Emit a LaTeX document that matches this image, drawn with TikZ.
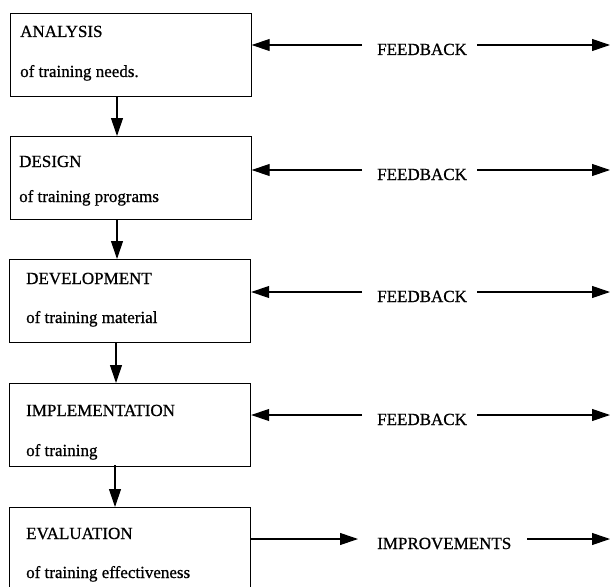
\documentclass[tikz,border=0pt]{standalone}
\usepackage{fontspec}
\setmainfont{Liberation Serif}[FakeBold=0.8]
\usetikzlibrary{arrows.meta}
\begin{document}
\begin{tikzpicture}[x=1pt,y=-1pt,
  stagebox/.style={draw,line width=1.2pt,rectangle,minimum width=241pt,minimum height=83pt,anchor=north west,inner sep=0pt},
  lbl/.style={font=\fontsize{17}{20}\selectfont,inner sep=0pt,anchor=base west},
  arr/.style={line width=1.1pt,-{Triangle[length=18pt,width=12pt]}}]
\clip (0,0) rectangle (610,586);
\fill[white] (0,0) rectangle (610,586);
% boxes
\node[stagebox] (b1) at (9.5,13) {};
\node[stagebox] (b2) at (9.5,136) {};
\node[stagebox] (b3) at (9,259) {};
\node[stagebox] (b4) at (9,383) {};
\node[stagebox] (b5) at (8.5,507) {};
% box texts
\node[lbl] (t1) at (20,37) {ANALYSIS};
\node[lbl] (s1) at (20,77) {of training needs.};
\node[lbl] (t2) at (19,167) {DESIGN};
\node[lbl] (s2) at (19,202) {of training programs};
\node[lbl] (t3) at (26,284) {DEVELOPMENT};
\node[lbl] (s3) at (26,323) {of training material};
\node[lbl] (t4) at (26,416) {IMPLEMENTATION};
\node[lbl] (s4) at (26,456) {of training};
\node[lbl] (t5) at (26,539) {EVALUATION};
\node[lbl] (s5) at (26,578) {of training effectiveness};
% down arrows
\draw[arr] (117,96) coordinate (d1) -- (d1 |- b2.north);
\draw[arr] (117,219) coordinate (d2) -- (d2 |- b3.north);
\draw[arr] (116,342) coordinate (d3) -- (d3 |- b4.north);
\draw[arr] (115,465) coordinate (d4) -- (d4 |- b5.north);
% feedback labels
\node[lbl] (f1) at (377,55) {FEEDBACK};
\node[lbl] (f2) at (377,180) {FEEDBACK};
\node[lbl] (f3) at (377,302) {FEEDBACK};
\node[lbl] (f4) at (377,425) {FEEDBACK};
\node[lbl] (im) at (377,549) {IMPROVEMENTS};
% line anchor coordinates
\coordinate (f1l) at (362,45);  \coordinate (f1r) at (477,45);  \coordinate (e1) at (610,45);
\coordinate (f2l) at (362,170); \coordinate (f2r) at (477,170); \coordinate (e2) at (610,170);
\coordinate (f3l) at (362,292); \coordinate (f3r) at (477,292); \coordinate (e3) at (610,292);
\coordinate (f4l) at (362,415); \coordinate (f4r) at (477,415); \coordinate (e4) at (610,415);
\coordinate (iml) at (358,539); \coordinate (imr) at (527,539); \coordinate (e5) at (610,539);
% feedback arrows
\draw[arr] (f1l) -- (b1.east |- f1l);
\draw[arr] (f1r) -- (e1);
\draw[arr] (f2l) -- (b2.east |- f2l);
\draw[arr] (f2r) -- (e2);
\draw[arr] (f3l) -- (b3.east |- f3l);
\draw[arr] (f3r) -- (e3);
\draw[arr] (f4l) -- (b4.east |- f4l);
\draw[arr] (f4r) -- (e4);
% improvements arrows
\draw[arr] (b5.east |- iml) -- (iml);
\draw[arr] (imr) -- (e5);
\end{tikzpicture}
\end{document}
